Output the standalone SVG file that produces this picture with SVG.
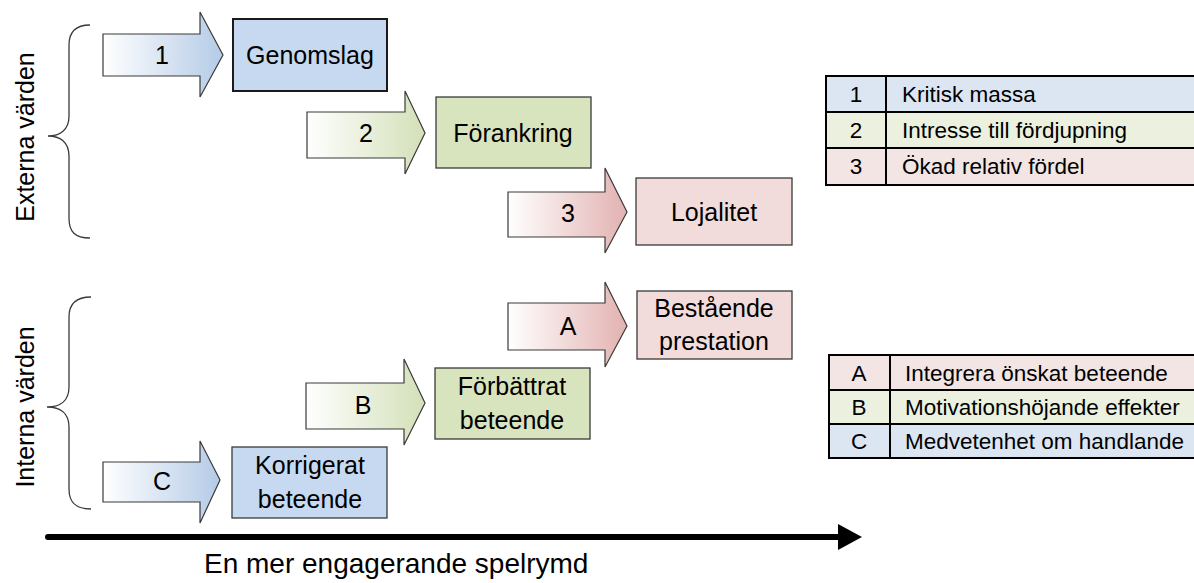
<svg xmlns="http://www.w3.org/2000/svg" width="1194" height="583" viewBox="0 0 1194 583">
  <style>
    text { font-family: "Liberation Sans", Arial, sans-serif; fill: #000; }
    .lbl { font-size: 25px; text-anchor: middle; dominant-baseline: central; }
    .side { font-size: 25px; text-anchor: middle; dominant-baseline: central; }
    .tbl { font-size: 22.5px; dominant-baseline: central; }
    .tnum { font-size: 22.5px; text-anchor: middle; dominant-baseline: central; }
    .axislbl { font-size: 28px; dominant-baseline: central; }
    .box { stroke: #3a3a3a; stroke-width: 1.3; }
    .arr { stroke: #3a3a3a; stroke-width: 1.2; stroke-linejoin: miter; }
    .brace { fill: none; stroke: #3a3a3a; stroke-width: 1.3; }
    .cell { stroke: #000; stroke-width: 2; }
  </style>
  <defs>
    <linearGradient id="gBlue" x1="0" y1="0" x2="1" y2="0">
      <stop offset="0" stop-color="#ffffff"/>
      <stop offset="1" stop-color="#b4cbe6"/>
    </linearGradient>
    <linearGradient id="gGreen" x1="0" y1="0" x2="1" y2="0">
      <stop offset="0" stop-color="#ffffff"/>
      <stop offset="1" stop-color="#d3e0b8"/>
    </linearGradient>
    <linearGradient id="gRed" x1="0" y1="0" x2="1" y2="0">
      <stop offset="0" stop-color="#ffffff"/>
      <stop offset="1" stop-color="#e2b2b1"/>
    </linearGradient>
  </defs>

  <!-- side braces and group labels -->
  <g id="externa">
    <path class="brace" d="M90,25 C75,25 69,32 69,45 L69,116 C69,130 60,136 48,136 C60,136 69,142 69,156 L69,218 C69,232 75,238 90,238"/>
    <text class="side" transform="translate(25,137) rotate(-90)">Externa värden</text>
  </g>
  <g id="interna">
    <path class="brace" d="M91,297 C76,297 69,304 69,317 L69,387 C69,401 60,407 47,407 C60,407 69,413 69,427 L69,489 C69,503 76,509 91,509"/>
    <text class="side" transform="translate(25,407) rotate(-90)">Interna värden</text>
  </g>

  <!-- step arrows -->
  <g id="connectors">
    <g id="arrow-1">
      <path class="arr" fill="url(#gBlue)" d="M103,34 H200 V12 L223,55 L200,97 V76 H103 Z"/>
      <text class="lbl" x="162" y="55">1</text>
    </g>
    <g id="arrow-2">
      <path class="arr" fill="url(#gGreen)" d="M307,112 H405 V91 L425,133 L405,174 V158 H307 Z"/>
      <text class="lbl" x="366" y="133">2</text>
    </g>
    <g id="arrow-3">
      <path class="arr" fill="url(#gRed)" d="M508,192 H605 V168 L627,212 L605,253 V237 H508 Z"/>
      <text class="lbl" x="568" y="213">3</text>
    </g>
    <g id="arrow-a">
      <path class="arr" fill="url(#gRed)" d="M508,303 H605 V282 L627,326 L605,367 V350 H508 Z"/>
      <text class="lbl" x="568" y="326">A</text>
    </g>
    <g id="arrow-b">
      <path class="arr" fill="url(#gGreen)" d="M306,383 H404 V359 L425,403 L404,445 V429 H306 Z"/>
      <text class="lbl" x="363" y="405">B</text>
    </g>
    <g id="arrow-c">
      <path class="arr" fill="url(#gBlue)" d="M103,462 H200 V441 L220,480 L200,523 V502 H103 Z"/>
      <text class="lbl" x="162" y="481">C</text>
    </g>
    <!-- horizontal axis -->
    <g id="axis">
      <line x1="48" y1="537" x2="842" y2="537" stroke="#000" stroke-width="6" stroke-linecap="round"/>
      <path d="M838,524 L862,537 L838,550 Z" fill="#000"/>
    </g>
  </g>

  <!-- outcome boxes -->
  <g id="genomslag">
    <rect x="233" y="19" width="154" height="72" fill="#c6d9f1" stroke="#1a1a1a" stroke-width="2"/>
    <text class="lbl" x="310" y="55">Genomslag</text>
  </g>
  <g id="forankring">
    <rect class="box" x="436" y="97" width="155" height="71" fill="#d7e4bd"/>
    <text class="lbl" x="513" y="133">Förankring</text>
  </g>
  <g id="lojalitet">
    <rect class="box" x="636" y="178" width="156" height="67" fill="#f2dcdb"/>
    <text class="lbl" x="714" y="212">Lojalitet</text>
  </g>
  <g id="bestaende">
    <rect class="box" x="637" y="291" width="155" height="68" fill="#f2dcdb"/>
    <text class="lbl" x="714" y="308">Bestående</text>
    <text class="lbl" x="714" y="341">prestation</text>
  </g>
  <g id="forbattrat">
    <rect class="box" x="435" y="368" width="155" height="71" fill="#d7e4bd"/>
    <text class="lbl" x="512" y="386">Förbättrat</text>
    <text class="lbl" x="512" y="420">beteende</text>
  </g>
  <g id="korrigerat">
    <rect class="box" x="232" y="447" width="155" height="71" fill="#c6d9f1"/>
    <text class="lbl" x="310" y="465">Korrigerat</text>
    <text class="lbl" x="310" y="499">beteende</text>
  </g>

  <!-- legend: external values -->
  <g id="legend-externa">
    <rect class="cell" x="826" y="76" width="380" height="36" fill="#dce6f2"/>
    <rect class="cell" x="826" y="112" width="380" height="36" fill="#ebf1de"/>
    <rect class="cell" x="826" y="148" width="380" height="37" fill="#f2e5e4"/>
    <line class="cell" x1="886" y1="76" x2="886" y2="185"/>
    <text class="tnum" x="856" y="94">1</text>
    <text class="tbl" x="902" y="94">Kritisk massa</text>
    <text class="tnum" x="856" y="130">2</text>
    <text class="tbl" x="902" y="130">Intresse till fördjupning</text>
    <text class="tnum" x="856" y="166">3</text>
    <text class="tbl" x="902" y="166">Ökad relativ fördel</text>
  </g>

  <!-- legend: internal values -->
  <g id="legend-interna">
    <rect class="cell" x="829" y="355" width="380" height="35" fill="#f2e5e4"/>
    <rect class="cell" x="829" y="390" width="380" height="34" fill="#ebf1de"/>
    <rect class="cell" x="829" y="424" width="380" height="34" fill="#dce6f2"/>
    <line class="cell" x1="890" y1="355" x2="890" y2="458"/>
    <text class="tnum" x="859" y="373">A</text>
    <text class="tbl" x="905" y="373">Integrera önskat beteende</text>
    <text class="tnum" x="859" y="407">B</text>
    <text class="tbl" x="905" y="407">Motivationshöjande effekter</text>
    <text class="tnum" x="859" y="441">C</text>
    <text class="tbl" x="905" y="441">Medvetenhet om handlande</text>
  </g>

  <g id="axis-label">
    <text class="axislbl" x="204" y="563">En mer engagerande spelrymd</text>
  </g>
</svg>
